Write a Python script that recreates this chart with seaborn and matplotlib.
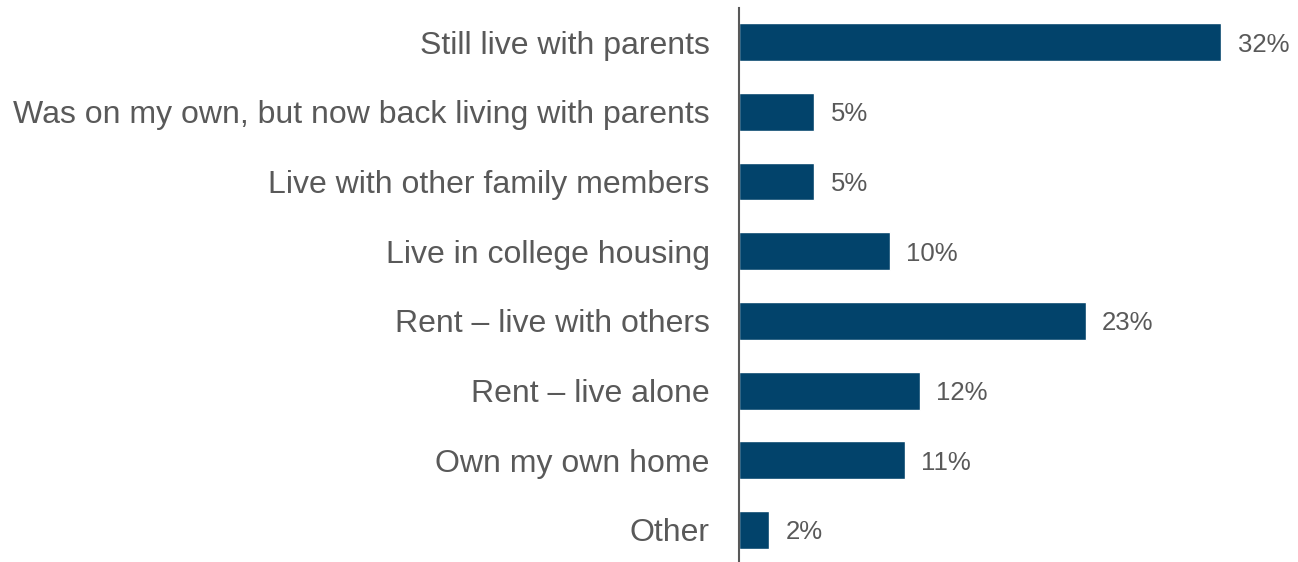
import matplotlib
matplotlib.use("Agg")
import matplotlib.pyplot as plt
import seaborn as sns
import pandas as pd

categorias = [
    "Still live with parents",
    "Was on my own, but now back living with parents",
    "Live with other family members",
    "Live in college housing",
    "Rent \u2013 live with others",
    "Rent \u2013 live alone",
    "Own my own home",
    "Other",
]
valores = [32, 5, 5, 10, 23, 12, 11, 2]

df = pd.DataFrame({"categoria": categorias, "valor": valores})

sns.set_style("white")
plt.rcParams["font.family"] = ["Liberation Sans", "DejaVu Sans"]

cor_texto = "#595959"
cor_barra = "#02436B"

fig = plt.figure(figsize=(12.98, 5.62), dpi=100)
ax = fig.add_axes([0.5693, 0.0, 0.4307, 0.9858])

sns.barplot(data=df, x="valor", y="categoria", orient="h", color=cor_barra,
            width=0.545, saturation=1, ax=ax)

for i, v in enumerate(valores):
    ax.text(v + 1.1, i, f"{v}%", va="center_baseline", ha="left", fontsize=18.5, color=cor_texto)

ax.set_xlim(0, 37.1)
ax.set_ylim(7.46, -0.49)
ax.set_xlabel("")
ax.set_ylabel("")
ax.set_xticks([])
ax.tick_params(axis="y", length=0, pad=21, labelsize=23, labelcolor=cor_texto)

for lado in ["top", "right", "bottom"]:
    ax.spines[lado].set_visible(False)
ax.spines["left"].set_color("#595959")
ax.spines["left"].set_linewidth(1.5)

fig.savefig("out.png", dpi=100)
